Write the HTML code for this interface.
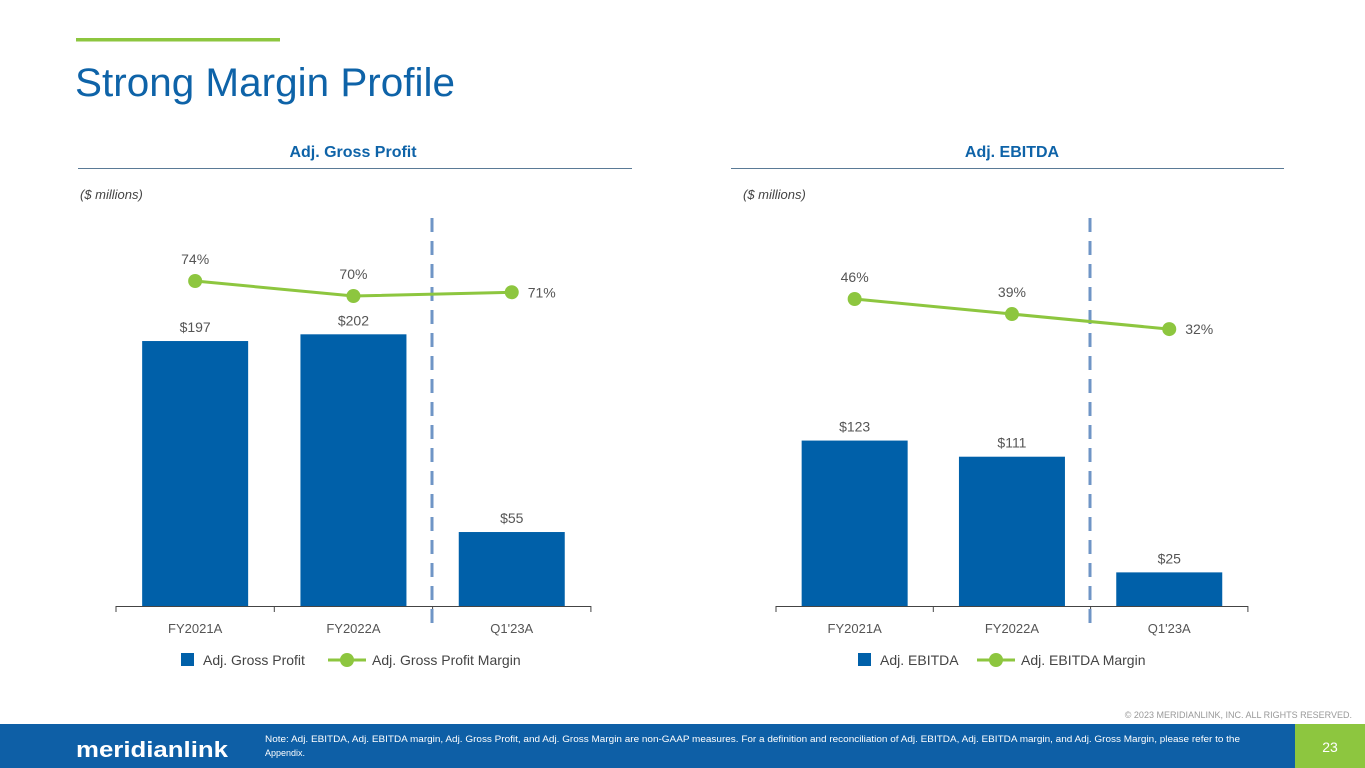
<!DOCTYPE html>
<html><head><meta charset="utf-8"><style>
body{margin:0;width:1365px;height:768px;overflow:hidden;background:#fff;font-family:"Liberation Sans",sans-serif;position:relative}
svg{position:absolute;left:0;top:0}
</style></head><body>
<svg id="s" width="1365" height="768">
<rect x="76" y="38" width="204" height="3.5" fill="#8dc63f"/>
<text x="75" y="96" font-size="40" fill="#0e63a8" textLength="380" lengthAdjust="spacingAndGlyphs">Strong Margin Profile</text>
<text x="353" y="157" font-size="16" font-weight="bold" fill="#0e63a8" text-anchor="middle">Adj. Gross Profit</text>
<line x1="78" y1="168.5" x2="632" y2="168.5" stroke="#5a7a96" stroke-width="1"/>
<text x="80" y="199" font-size="13" font-style="italic" fill="#444">($ millions)</text>
<text x="1012" y="157" font-size="16" font-weight="bold" fill="#0e63a8" text-anchor="middle">Adj. EBITDA</text>
<line x1="731" y1="168.5" x2="1284" y2="168.5" stroke="#5a7a96" stroke-width="1"/>
<text x="743" y="199" font-size="13" font-style="italic" fill="#444">($ millions)</text>
<text x="1352" y="718" font-size="9" fill="#999" text-anchor="end">© 2023 MERIDIANLINK, INC. ALL RIGHTS RESERVED.</text>
<rect x="0" y="724" width="1365" height="44" fill="#0e5fa6"/>
<rect x="1295" y="724" width="70" height="44" fill="#8dc63f"/>
<text x="1330" y="752" font-size="14" fill="#fff" text-anchor="middle">23</text>
<text x="76" y="757" font-size="22" font-weight="bold" fill="#fff" textLength="152" lengthAdjust="spacingAndGlyphs">meridianlink</text>
<text x="265" y="742" font-size="9" fill="#fff" textLength="975" lengthAdjust="spacingAndGlyphs">Note: Adj. EBITDA, Adj. EBITDA margin, Adj. Gross Profit, and Adj. Gross Margin are non-GAAP measures. For a definition and reconciliation of Adj. EBITDA, Adj. EBITDA margin, and Adj. Gross Margin, please refer to the</text>
<text x="265" y="756" font-size="9" fill="#fff">Appendix.</text>
</svg>
<script>
const categories=["FY2021A","FY2022A","Q1'23A"];
const gpValues=[197,202,55];
const gpMargin=[74,70,71];
const ebitdaValues=[123,111,25];
const ebitdaMargin=[46,39,32];
const s=document.getElementById('s');
const NS='http://www.w3.org/2000/svg';
function mk(tag,attrs,txt){const e=document.createElementNS(NS,tag);for(const k in attrs)e.setAttribute(k,attrs[k]);if(txt!==undefined)e.textContent=txt;s.appendChild(e);return e;}
function chart(o){
  const base=606,bw=106,scale=1.345;
  const cx=i=>o.x0+(i+0.5)*o.step;
  const yBar=v=>base-v*scale;
  const yLine=v=>o.ly0+(o.lref-v)*o.lscale;
  let e=mk('line',{x1:o.x0,y1:base+0.5,x2:o.x0+3*o.step,y2:base+0.5,stroke:'#444','stroke-width':1});
  
  for(let i=0;i<=3;i++){e=mk('line',{x1:o.x0+i*o.step,y1:base,x2:o.x0+i*o.step,y2:base+6,stroke:'#444'});
    }
  o.bars.forEach((v,i)=>{
    e=mk('rect',{x:cx(i)-bw/2,y:yBar(v),width:bw,height:v*scale,fill:'#0060a9'});
    
    e=mk('text',{x:cx(i),y:yBar(v)-9,'font-size':14,fill:'#555','text-anchor':'middle'},'$'+v);
    
    e=mk('text',{x:cx(i),y:633,'font-size':13,fill:'#555','text-anchor':'middle'},categories[i]);
    
  });
  e=mk('line',{x1:o.dash,y1:218,x2:o.dash,y2:632,stroke:'#6f95c6','stroke-width':3,'stroke-dasharray':'14 9'});
  
  e=mk('polyline',{points:o.line.map((v,i)=>cx(i)+','+yLine(v)).join(' '),fill:'none',stroke:'#8dc63f','stroke-width':3});
  
  o.line.forEach((v,i)=>{
    e=mk('circle',{cx:cx(i),cy:yLine(v),r:7,fill:'#8dc63f'});
    
    const last=i===2;
    e=mk('text',{x:last?cx(i)+30:cx(i),y:last?yLine(v)+5:yLine(v)-17,'font-size':14,fill:'#555','text-anchor':'middle'},v+'%');
    
  });
  e=mk('rect',{x:o.lx,y:653,width:13,height:13,fill:'#0060a9'});
  
  e=mk('text',{x:o.lx+22,y:665,'font-size':14,fill:'#444'},o.l1);
  
  e=mk('line',{x1:o.lx2,y1:660,x2:o.lx2+38,y2:660,stroke:'#8dc63f','stroke-width':3});
  
  e=mk('circle',{cx:o.lx2+19,cy:660,r:7,fill:'#8dc63f'});
  
  e=mk('text',{x:o.lx2+44,y:665,'font-size':14,fill:'#444'},o.l2);
  
}
chart({p:'gp',x0:116,step:158.3,bars:gpValues,line:gpMargin,ly0:281,lref:74,lscale:3.75,dash:432,lx:181,lx2:328,l1:'Adj. Gross Profit',l2:'Adj. Gross Profit Margin'});
chart({p:'ebitda',x0:776,step:157.3,bars:ebitdaValues,line:ebitdaMargin,ly0:299,lref:46,lscale:2.15,dash:1090,lx:858,lx2:977,l1:'Adj. EBITDA',l2:'Adj. EBITDA Margin'});
</script>
</body></html>
